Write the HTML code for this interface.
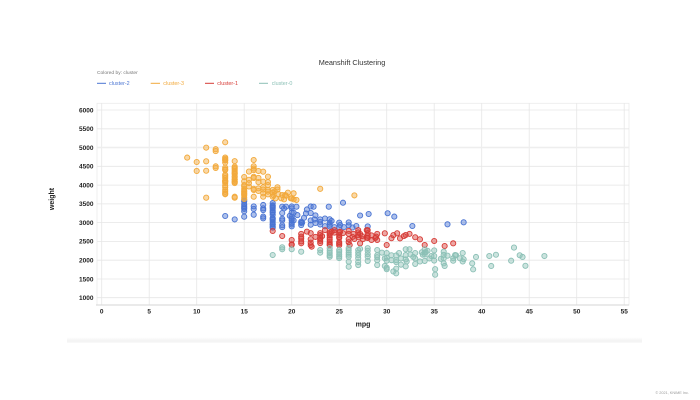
<!DOCTYPE html>
<html><head><meta charset="utf-8">
<style>
html,body{margin:0;padding:0;background:#fff;width:700px;height:400px;overflow:hidden;}
svg{display:block;font-family:"Liberation Sans",Arial,sans-serif;}
.shadow{position:absolute;left:67px;top:337px;width:575px;height:6px;background:linear-gradient(to bottom,rgba(255,255,255,0),#f2f2f2 70%,#fafafa);}
</style></head>
<body>
<div class="shadow"></div>
<svg id="chart" width="700" height="400" viewBox="0 0 700 400" xmlns="http://www.w3.org/2000/svg" style="position:absolute;left:0;top:0">
<text x="352" y="65" font-size="7.3" fill="#333" text-anchor="middle">Meanshift Clustering</text>
<text x="97" y="74" font-size="4.9" fill="#777">Colored by: cluster</text>
<g font-size="5.4">
<line x1="97" y1="83.3" x2="106" y2="83.3" stroke="#4a74d2" stroke-width="1"/>
<text x="109" y="85.2" fill="#4a74d2">cluster-2</text>
<line x1="150.7" y1="83.3" x2="160" y2="83.3" stroke="#f2a93b" stroke-width="1"/>
<text x="163.3" y="85.2" fill="#f2a93b">cluster-3</text>
<line x1="205" y1="83.3" x2="214" y2="83.3" stroke="#d63b36" stroke-width="1"/>
<text x="217.3" y="85.2" fill="#d63b36">cluster-1</text>
<line x1="259" y1="83.3" x2="268" y2="83.3" stroke="#8cc0b6" stroke-width="1"/>
<text x="271.7" y="85.2" fill="#8cc0b6">cluster-0</text>
</g>
<rect x="97" y="103.3" width="532" height="201.7" fill="none" stroke="#ebebeb" stroke-width="0.8"/>
<g stroke="#e6e6e6" stroke-width="0.8">
<line x1="101.7" y1="103.3" x2="101.7" y2="305"/>
<line x1="149.2" y1="103.3" x2="149.2" y2="305"/>
<line x1="196.7" y1="103.3" x2="196.7" y2="305"/>
<line x1="244.2" y1="103.3" x2="244.2" y2="305"/>
<line x1="291.7" y1="103.3" x2="291.7" y2="305"/>
<line x1="339.2" y1="103.3" x2="339.2" y2="305"/>
<line x1="386.7" y1="103.3" x2="386.7" y2="305"/>
<line x1="434.2" y1="103.3" x2="434.2" y2="305"/>
<line x1="481.7" y1="103.3" x2="481.7" y2="305"/>
<line x1="529.2" y1="103.3" x2="529.2" y2="305"/>
<line x1="576.7" y1="103.3" x2="576.7" y2="305"/>
<line x1="624.2" y1="103.3" x2="624.2" y2="305"/>
<line x1="97" y1="110" x2="629" y2="110"/>
<line x1="97" y1="128.8" x2="629" y2="128.8"/>
<line x1="97" y1="147.5" x2="629" y2="147.5" stroke-width="1.4" stroke="#eeeeee"/>
<line x1="97" y1="166.3" x2="629" y2="166.3"/>
<line x1="97" y1="185.1" x2="629" y2="185.1"/>
<line x1="97" y1="203.9" x2="629" y2="203.9"/>
<line x1="97" y1="222.6" x2="629" y2="222.6"/>
<line x1="97" y1="241.4" x2="629" y2="241.4"/>
<line x1="97" y1="260.2" x2="629" y2="260.2"/>
<line x1="97" y1="279" x2="629" y2="279"/>
<line x1="97" y1="297.7" x2="629" y2="297.7"/>
</g>
<line x1="96" y1="305" x2="629" y2="305" stroke="#d6d6d6" stroke-width="0.9"/>
<g font-size="6.5" font-weight="bold" fill="#222" text-anchor="end">
<text x="93.5" y="112.3">6000</text>
<text x="93.5" y="131.1">5500</text>
<text x="93.5" y="149.8">5000</text>
<text x="93.5" y="168.6">4500</text>
<text x="93.5" y="187.4">4000</text>
<text x="93.5" y="206.2">3500</text>
<text x="93.5" y="224.9">3000</text>
<text x="93.5" y="243.7">2500</text>
<text x="93.5" y="262.5">2000</text>
<text x="93.5" y="281.3">1500</text>
<text x="93.5" y="300">1000</text>
</g>
<g font-size="6.5" font-weight="bold" fill="#222" text-anchor="middle">
<text x="101.7" y="313.3">0</text>
<text x="149.2" y="313.3">5</text>
<text x="196.7" y="313.3">10</text>
<text x="244.2" y="313.3">15</text>
<text x="291.7" y="313.3">20</text>
<text x="339.2" y="313.3">25</text>
<text x="386.7" y="313.3">30</text>
<text x="434.2" y="313.3">35</text>
<text x="481.7" y="313.3">40</text>
<text x="529.2" y="313.3">45</text>
<text x="576.7" y="313.3">50</text>
<text x="624.2" y="313.3">55</text>
</g>
<text x="363" y="326.5" font-size="7" font-weight="bold" fill="#222" text-anchor="middle">mpg</text>
<text transform="translate(54.2,199) rotate(-90)" font-size="7" font-weight="bold" fill="#222" text-anchor="middle">weight</text>
<text x="689" y="394" font-size="3.8" fill="#999" text-anchor="end">© 2021, KNIME Inc.</text>
<g id="pts"></g>
</svg>
<script>
(function(){
var blue=[[13,3176],[14,3086],[15,3600],[15,3563],[15,3490],[15,3439],[15,3400],[15,3365],[15,3302],[15,3158],[16,3433],[16,3365],[16,3211],[17,3470],[17,3380],[17,3335],[17,3160],[17,3115],
[18,3520],[18,3460],[18,3440],[18,3410],[18,3380],[18,3330],[18,3288],[18,3265],[18,3211],[18,3121],[18,3102],[18,3070],[18,3021],[18,2962],[18,2945],[18,2901],[18,2868],
[19,3425],[19,3255],[19,3102],[19,3060],[19,2930],[19,2880],[19.2,3380],[19.4,3425],
[20,3430],[20,3380],[20,3270],[20,3150],[20,3102],[20,3060],[20,2990],[20,2950],[20,2900],[20.2,3265],[20.5,3425],[20.6,3200],[20.2,3060],
[21,3024],[21,2935],[21,2990],[21.5,3245],[21.6,3350],[22,3430],[22,3255],[22,2945],[22.4,3085],[22.5,3193],[22.3,3425],
[23,3085],[23,2950],[23.5,2905],[23.9,3425],[24,2945],[24,3000],[24.2,3045],[24,2900],[24.5,2880],
[25.4,3530],[25.1,2936],[25,2875],[25.5,2880],[26,2930],[26.4,2870],[26.8,2910],[27.2,3190],[28.1,3230],[28,2900],
[30.1,3250],[30.8,3160],[32.7,2910],[36.4,2955],[38.1,3008],
[21.1,3000],[22,3060],[23,3020],[24,3090],[25,3000],[22.5,2990],[23.5,3110],[26,3005],[19.8,3180],[21.3,3130]];
var orange=[[9,4732],[10,4615],[10,4376],[11,4997],[11,4633],[11,4382],[11,3664],[12,4955],[12,4906],[12,4499],[12,4456],[13,5140],
[13,4735],[13,4700],[13,4668],[13,4654],[13,4600],[13,4464],[13,4422],[13,4400],[13,4274],[13,4237],[13,4190],[13,4129],[13,4100],[13,4098],[13,4055],[13,3988],[13,3940],[13,3870],[13,3821],[13,3777],[13,3755],
[14,4638],[14,4490],[14,4457],[14,4425],[14,4382],[14,4341],[14,4312],[14,4294],[14,4237],[14,4209],[14,4154],[14,4141],[14,4096],[14,4082],[14,4054],[14,3690],[14,3664],
[15,4100],[15,4000],[15,3962],[15,3900],[15,3850],[15,3821],[15,3785],[15,3760],[15,3730],[15,3672],[15,3630],[15,4215],
[16,4668],[16,4500],[16,4440],[16,4400],[16,4220],[16,4190],[16,3900],[16,3870],[16,3690],
[16.5,4375],[17,4357],[17.5,4224],[17,4090],[16.5,3912],[17.5,4002],[18.5,3940],[17,3690],[16.5,3842],[17.5,3754],[18,3690],[18.3,3648],[18.9,3648],[19.4,3718],[19.9,3648],[23,3900],[26.6,3725],
[15.5,4054],[15.5,4141],[15.5,3962],[15.5,4360],[16.5,4190],[16.5,4080],[17,3940],[17,3880],[17.5,3870],[17.5,4080],[18,3800],[18,3870],[18.1,3725],[18.2,3830],[18.5,3880],[19,3735],[19.2,3620],[20.2,3620],[20.5,3605],[20.2,3780],
[17,3780],[17.5,3825],[18.6,3762],[19.3,3736],[19.6,3797],[20,3648]];
var red=[[18,2777],[19,2643],[20,2537],[20,2422],[20,2408],[21,2700],[21,2625],[21,2574],[21,2500],[21,2450],[21.6,2760],[22,2720],[22,2560],[22.1,2360],[22,2400],[22,2465],
[23,2720],[23,2670],[23,2600],[23,2556],[23,2510],[23,2456],[23.2,2640],
[24,2740],[24,2700],[24,2660],[24,2600],[24,2545],[24,2480],[24,2430],[24,2400],[24.5,2735],
[25,2740],[25,2670],[25,2620],[25,2590],[25,2480],[25,2440],[25,2400],[25.4,2720],
[26,2700],[26,2560],[26,2480],[26.4,2620],[26.6,2565],
[27,2740],[27,2670],[27,2610],[27.2,2700],[27.4,2640],[27.9,2600],[27.5,2560],
[28,2720],[28,2650],[28,2590],[28.4,2660],[28.8,2590],
[29,2537],[29.8,2715],[30,2404],
[31.1,2715],[31.4,2580],[32,2670],[33,2610],[33.5,2555],[34,2404],[35,2510],[36.1,2377],[37,2448],[32.4,2700],[31.8,2640],[30.7,2665],[30.5,2585],
[27,2800],[27.9,2800],[24.2,2760],[25.1,2760],[26.1,2404],[27.2,2448],[28.4,2537],[28.9,2625],
[23.5,2800],[24.5,2800],[26,2780],[28,2800],[29,2700],[26.5,2700],[22.5,2620]];
var teal=[[18,2137],[19,2342],[19,2290],[20,2290],[21,2226],[23,2270],[23,2200],
[24,2315],[24,2250],[24,2190],[24,2130],[24,2090],
[25,2270],[25,2220],[25,2155],[25,2100],[25,2055],
[26,2320],[26,2265],[26,2200],[26,2145],[26,2090],[26,1960],[26,1825],
[27,2270],[27,2200],[27,2130],[27,2055],[27,1870],[27,1950],[27.2,2300],
[28,2320],[28,2250],[28,2160],[28,2090],
[29,2270],[29,2130],[29,2000],[29,1870],[29.5,2200],[29.8,2050],[29.8,1845],
[30,2190],[30,2065],[30,1985],[30,1800],[30,1760],[30.5,2130],[30.7,1700],
[31,2125],[31,2000],[31,1950],[31,1773],[31,1650],[31.5,2045],[31.3,2190],
[32,2290],[32,2135],[32,2020],[32,1835],[32.1,1965],[32.4,2290],[32.8,2085],
[33,2190],[33,2045],[33.5,1965],[33.8,2145],[33.7,2210],
[34,2290],[34,2200],[34,2150],[34,1980],[34.1,2215],[34.5,2045],[34.7,2110],[34.3,2250],
[35,2260],[35,2110],[35,1990],[35.1,1760],[35.1,1613],[35.7,2035],
[36,2225],[36,2140],[36,1915],[36.1,1845],[36.4,2120],
[37,2050],[37,1985],[37.2,2135],[37.3,2130],[37.7,2050],[38,2190],[38,1965],[38.1,2025],
[39,1915],[39.1,1755],[39.4,2085],
[40.8,2110],[41.5,2144],[41,1845],[43.1,1985],[43.4,2335],[44,2130],[44.3,2085],[44.6,1850],[46.6,2110],
[28,1980],[29,2080],[30.5,2000],[32.5,2150],[33,1900],[31.5,1880],[36,2050]];
var series=[[blue,"#4a74d2"],[orange,"#f2a93b"],[red,"#d63b36"],[teal,"#8cc0b6"]];
var ns="http://www.w3.org/2000/svg",g=document.getElementById("pts");
series.forEach(function(s){
  s[0].forEach(function(p){
    var c=document.createElementNS(ns,"circle");
    c.setAttribute("cx",(101.7+9.5*p[0]).toFixed(2));
    c.setAttribute("cy",(335.24-0.03754*p[1]).toFixed(2));
    c.setAttribute("r","2.6");
    c.setAttribute("fill",s[1]);
    c.setAttribute("fill-opacity","0.45");
    c.setAttribute("stroke",s[1]);
    c.setAttribute("stroke-width","0.9");
    g.appendChild(c);
  });
});
})();
</script>
</body></html>
